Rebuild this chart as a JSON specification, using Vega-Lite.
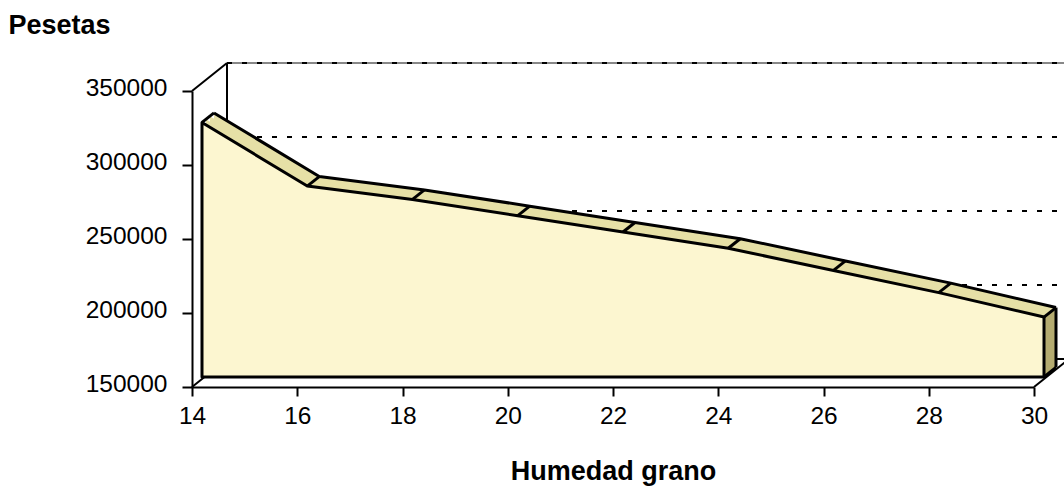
{
  "$schema": "https://vega.github.io/schema/vega-lite/v6.json",
  "width": 842,
  "height": 296,
  "autosize": "none",
  "padding": {"left": 192, "top": 91, "right": 30, "bottom": 99},
  "background": "white",
  "config": {"view": {"stroke": null}, "font": "Liberation Sans"},
  "datasets": {
    "pts": [
      {"h": 14, "p": 322000},
      {"h": 16, "p": 279000},
      {"h": 18, "p": 270000},
      {"h": 20, "p": 259000},
      {"h": 22, "p": 248000},
      {"h": 24, "p": 237000},
      {"h": 26, "p": 222000},
      {"h": 28, "p": 207000},
      {"h": 30, "p": 190500}
    ],
    "grid": [{"p": 200000}, {"p": 250000}, {"p": 300000}, {"p": 350000}],
    "edges": [{"p": 150000}, {"p": 350000}],
    "one": [{}]
  },
  "layer": [
    {
      "data": {"name": "one"},
      "mark": {"type": "rule", "stroke": "#888888", "strokeWidth": 2, "xOffset": 35, "x2Offset": 35, "yOffset": -28, "y2Offset": -28},
      "encoding": {
        "x": {"datum": 14, "type": "quantitative"},
        "x2": {"datum": 30},
        "y": {"datum": 350000, "type": "quantitative"}
      }
    },
    {
      "data": {"name": "grid"},
      "mark": {"type": "rule", "stroke": "black", "strokeWidth": 2, "strokeDash": [5, 10], "xOffset": 35, "x2Offset": 35, "yOffset": -28, "y2Offset": -28},
      "encoding": {
        "x": {"datum": 14, "type": "quantitative"},
        "x2": {"datum": 30},
        "y": {"field": "p", "type": "quantitative"}
      }
    },
    {
      "data": {"name": "one"},
      "mark": {"type": "rule", "stroke": "black", "strokeWidth": 2, "xOffset": 35, "yOffset": -28, "y2Offset": -28},
      "encoding": {
        "x": {"datum": 14, "type": "quantitative"},
        "y": {"datum": 150000, "type": "quantitative"},
        "y2": {"datum": 350000}
      }
    },
    {
      "data": {"name": "edges"},
      "mark": {"type": "rule", "stroke": "black", "strokeWidth": 2, "x2Offset": 35, "y2Offset": -28},
      "encoding": {
        "x": {"datum": 14, "type": "quantitative"},
        "x2": {"datum": 14},
        "y": {"field": "p", "type": "quantitative"},
        "y2": {"field": "p"}
      }
    },
    {
      "data": {"name": "one"},
      "mark": {"type": "rule", "stroke": "black", "strokeWidth": 2, "x2Offset": 35, "y2Offset": -28},
      "encoding": {
        "x": {"datum": 30, "type": "quantitative"},
        "x2": {"datum": 30},
        "y": {"datum": 150000, "type": "quantitative"},
        "y2": {"datum": 150000}
      }
    },
    {
      "data": {"name": "one"},
      "mark": {"type": "rule", "stroke": "black", "strokeWidth": 2, "xOffset": 35, "x2Offset": 35, "yOffset": -28, "y2Offset": -28},
      "encoding": {
        "x": {"datum": 14, "type": "quantitative"},
        "x2": {"datum": 30},
        "y": {"datum": 150000, "type": "quantitative"}
      }
    },
    {
      "data": {"name": "pts"},
      "mark": {"type": "area", "fill": "#e6e0a6", "xOffset": 14, "yOffset": -13.1, "y2Offset": -13.1},
      "encoding": {
        "x": {"field": "h", "type": "quantitative"},
        "y": {"field": "p", "type": "quantitative"},
        "y2": {"datum": 150000}
      }
    },
    {
      "data": {"name": "pts"},
      "mark": {"type": "area", "fill": "#e6e0a6", "xOffset": 18, "yOffset": -16.3, "y2Offset": -16.3},
      "encoding": {
        "x": {"field": "h", "type": "quantitative"},
        "y": {"field": "p", "type": "quantitative"},
        "y2": {"datum": 150000}
      }
    },
    {
      "data": {"name": "pts"},
      "mark": {"type": "area", "fill": "#e6e0a6", "xOffset": 22, "yOffset": -19.5, "y2Offset": -19.5},
      "encoding": {
        "x": {"field": "h", "type": "quantitative"},
        "y": {"field": "p", "type": "quantitative"},
        "y2": {"datum": 150000}
      }
    },
    {
      "data": {"name": "pts"},
      "transform": [{"filter": "datum.h == 30"}],
      "mark": {"type": "rule", "stroke": "#b5ac70", "strokeWidth": 3, "xOffset": 11.2, "yOffset": -10.9, "y2Offset": -10.9},
      "encoding": {
        "x": {"field": "h", "type": "quantitative"},
        "y": {"field": "p", "type": "quantitative"},
        "y2": {"datum": 150000}
      }
    },
    {
      "data": {"name": "pts"},
      "transform": [{"filter": "datum.h == 30"}],
      "mark": {"type": "rule", "stroke": "#b5ac70", "strokeWidth": 3, "xOffset": 13.6, "yOffset": -12.8, "y2Offset": -12.8},
      "encoding": {
        "x": {"field": "h", "type": "quantitative"},
        "y": {"field": "p", "type": "quantitative"},
        "y2": {"datum": 150000}
      }
    },
    {
      "data": {"name": "pts"},
      "transform": [{"filter": "datum.h == 30"}],
      "mark": {"type": "rule", "stroke": "#b5ac70", "strokeWidth": 3, "xOffset": 16, "yOffset": -14.7, "y2Offset": -14.7},
      "encoding": {
        "x": {"field": "h", "type": "quantitative"},
        "y": {"field": "p", "type": "quantitative"},
        "y2": {"datum": 150000}
      }
    },
    {
      "data": {"name": "pts"},
      "transform": [{"filter": "datum.h == 30"}],
      "mark": {"type": "rule", "stroke": "#b5ac70", "strokeWidth": 3, "xOffset": 18.4, "yOffset": -16.6, "y2Offset": -16.6},
      "encoding": {
        "x": {"field": "h", "type": "quantitative"},
        "y": {"field": "p", "type": "quantitative"},
        "y2": {"datum": 150000}
      }
    },
    {
      "data": {"name": "pts"},
      "transform": [{"filter": "datum.h == 30"}],
      "mark": {"type": "rule", "stroke": "#b5ac70", "strokeWidth": 3, "xOffset": 20.8, "yOffset": -18.5, "y2Offset": -18.5},
      "encoding": {
        "x": {"field": "h", "type": "quantitative"},
        "y": {"field": "p", "type": "quantitative"},
        "y2": {"datum": 150000}
      }
    },
    {
      "data": {"name": "pts"},
      "mark": {"type": "line", "stroke": "black", "strokeWidth": 3, "strokeJoin": "round", "xOffset": 22, "yOffset": -19.5},
      "encoding": {
        "x": {"field": "h", "type": "quantitative"},
        "y": {"field": "p", "type": "quantitative"}
      }
    },
    {
      "data": {"name": "pts"},
      "transform": [{"filter": "datum.h == 30"}],
      "mark": {"type": "rule", "stroke": "black", "strokeWidth": 3, "xOffset": 22, "yOffset": -19.5, "y2Offset": -19.5},
      "encoding": {
        "x": {"field": "h", "type": "quantitative"},
        "y": {"field": "p", "type": "quantitative"},
        "y2": {"datum": 150000}
      }
    },
    {
      "data": {"name": "one"},
      "mark": {"type": "rule", "stroke": "black", "strokeWidth": 3, "xOffset": 10, "yOffset": -10, "x2Offset": 22, "y2Offset": -19.5},
      "encoding": {
        "x": {"datum": 30, "type": "quantitative"},
        "x2": {"datum": 30},
        "y": {"datum": 150000, "type": "quantitative"},
        "y2": {"datum": 150000}
      }
    },
    {
      "data": {"name": "pts"},
      "mark": {"type": "area", "fill": "#fcf6d0", "stroke": "black", "strokeWidth": 3, "strokeJoin": "round", "xOffset": 10, "yOffset": -10, "y2Offset": -10},
      "encoding": {
        "x": {
          "field": "h",
          "type": "quantitative",
          "scale": {"domain": [14, 30], "nice": false, "zero": false},
          "axis": {
            "values": [14, 16, 18, 20, 22, 24, 26, 28, 30],
            "grid": false,
            "domainColor": "black",
            "domainWidth": 2,
            "tickColor": "black",
            "tickWidth": 2,
            "tickSize": 9,
            "labelFontSize": 24.5,
            "labelColor": "black",
            "labelPadding": 8,
            "labelFlush": false,
            "labelOverlap": false,
            "title": "Humedad grano",
            "titleFontSize": 27,
            "titleFontWeight": "bold",
            "titleColor": "black",
            "titleBaseline": "alphabetic",
            "titleY": 92
          }
        },
        "y": {
          "field": "p",
          "type": "quantitative",
          "scale": {"domain": [150000, 350000], "nice": false, "zero": false},
          "axis": {
            "values": [150000, 200000, 250000, 300000, 350000],
            "format": "d",
            "grid": false,
            "domainColor": "black",
            "domainWidth": 2,
            "tickColor": "black",
            "tickWidth": 2,
            "tickSize": 10,
            "labelFontSize": 24.5,
            "labelColor": "black",
            "labelPadding": 15,
            "labelOffset": -3,
            "labelFlush": false,
            "labelOverlap": false,
            "title": "Pesetas",
            "titleFontSize": 27,
            "titleFontWeight": "bold",
            "titleColor": "black",
            "titleAngle": 0,
            "titleAlign": "left",
            "titleBaseline": "alphabetic",
            "titleX": -184,
            "titleY": -58
          }
        },
        "y2": {"datum": 150000}
      }
    },
    {
      "data": {"name": "pts"},
      "mark": {"type": "rule", "stroke": "black", "strokeWidth": 3, "xOffset": 10, "yOffset": -10, "x2Offset": 22, "y2Offset": -19.5},
      "encoding": {
        "x": {"field": "h", "type": "quantitative"},
        "x2": {"field": "h"},
        "y": {"field": "p", "type": "quantitative"},
        "y2": {"field": "p"}
      }
    }
  ]
}
